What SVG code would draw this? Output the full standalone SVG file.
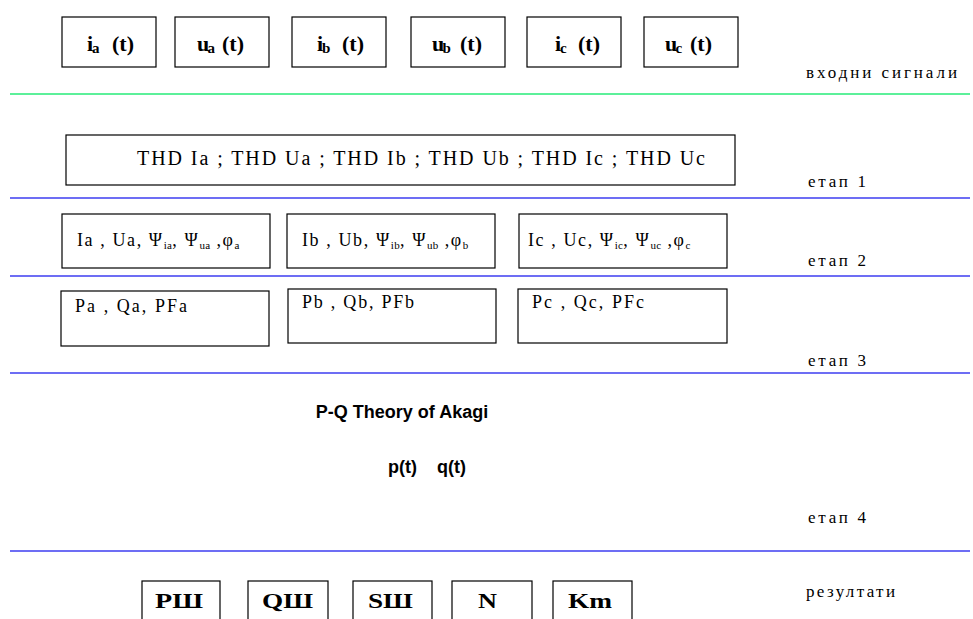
<svg xmlns="http://www.w3.org/2000/svg" width="973" height="619" viewBox="0 0 973 619">
<style>
.box{fill:#fff;stroke:#000;stroke-width:1.2}
.sig{font-family:"Liberation Serif","Times New Roman",serif;font-weight:bold;font-size:22px;fill:#000}
.sub{font-size:15px}
.lbl{font-family:"Liberation Serif","Times New Roman",serif;font-size:17px;fill:#000}
.txt{font-family:"Liberation Serif","Times New Roman",serif;font-size:18px;fill:#000}
.thd{font-family:"Liberation Serif","Times New Roman",serif;font-size:20px;fill:#000}
.s{font-size:11px;letter-spacing:0.3px}
.sep{stroke:#3c3cf0;stroke-width:1.5}
.green{stroke:#5cf09a;stroke-width:2}
.title{font-family:"Liberation Sans",Arial,sans-serif;font-weight:bold;font-size:18px;fill:#000}
.res{font-family:"Liberation Serif","Times New Roman",serif;font-weight:bold;font-size:21px;fill:#000}
</style>
<rect width="973" height="619" fill="#fff"/>
<g id="separators">
<line class="green" x1="10" y1="94" x2="970" y2="94"/>
<line class="sep" x1="10" y1="198" x2="970" y2="198"/>
<line class="sep" x1="10" y1="276" x2="970" y2="276"/>
<line class="sep" x1="10" y1="373" x2="970" y2="373"/>
<line class="sep" x1="10" y1="551" x2="970" y2="551"/>
</g>
<g id="sig-ia"><rect class="box" x="62" y="17" width="94" height="50"/><text class="sig" y="51"><tspan x="87">i</tspan><tspan class="sub" x="92" dy="2">a</tspan><tspan x="112" dy="-2">(t)</tspan></text></g>
<g id="sig-ua"><rect class="box" x="175" y="17" width="94" height="50"/><text class="sig" y="51"><tspan x="197">u</tspan><tspan class="sub" x="207.5" dy="2">a</tspan><tspan x="222" dy="-2">(t)</tspan></text></g>
<g id="sig-ib"><rect class="box" x="292" y="17" width="94" height="50"/><text class="sig" y="51"><tspan x="317">i</tspan><tspan class="sub" x="322" dy="2">b</tspan><tspan x="342" dy="-2">(t)</tspan></text></g>
<g id="sig-ub"><rect class="box" x="411" y="17" width="94" height="50"/><text class="sig" y="51"><tspan x="432">u</tspan><tspan class="sub" x="442.5" dy="2">b</tspan><tspan x="460" dy="-2">(t)</tspan></text></g>
<g id="sig-ic"><rect class="box" x="527" y="17" width="94" height="50"/><text class="sig" y="51"><tspan x="555">i</tspan><tspan class="sub" x="560" dy="2">c</tspan><tspan x="578" dy="-2">(t)</tspan></text></g>
<g id="sig-uc"><rect class="box" x="644" y="17" width="94" height="50"/><text class="sig" y="51"><tspan x="665">u</tspan><tspan class="sub" x="675.5" dy="2">c</tspan><tspan x="690" dy="-2">(t)</tspan></text></g>
<g id="label-input"><text class="lbl" x="806" y="78" textLength="151" lengthAdjust="spacing">входни сигнали</text></g>
<g id="stage1"><rect class="box" x="66" y="135" width="669" height="50"/><text class="thd" x="137" y="165" textLength="568" lengthAdjust="spacing">THD Ia ; THD Ua ; THD Ib ; THD Ub ; THD Ic ; THD Uc</text></g>
<g id="label-stage1"><text class="lbl" x="808" y="187" textLength="58" lengthAdjust="spacing">етап 1</text></g>
<g id="stage2-a"><rect class="box" x="62" y="214" width="208" height="54"/><text class="txt" x="77" y="246" letter-spacing="1.6">Ia , Ua, Ψ<tspan class="s" dy="3">ia</tspan><tspan dy="-3">, Ψ</tspan><tspan class="s" dy="3">ua</tspan><tspan dy="-3"> ,φ</tspan><tspan class="s" dy="3">a</tspan></text></g>
<g id="stage2-b"><rect class="box" x="287" y="214" width="208" height="54"/><text class="txt" x="302" y="246" letter-spacing="1.6">Ib , Ub, Ψ<tspan class="s" dy="3">ib</tspan><tspan dy="-3">, Ψ</tspan><tspan class="s" dy="3">ub</tspan><tspan dy="-3"> ,φ</tspan><tspan class="s" dy="3">b</tspan></text></g>
<g id="stage2-c"><rect class="box" x="519" y="214" width="208" height="54"/><text class="txt" x="528" y="246" letter-spacing="1.6">Ic , Uc, Ψ<tspan class="s" dy="3">ic</tspan><tspan dy="-3">, Ψ</tspan><tspan class="s" dy="3">uc</tspan><tspan dy="-3"> ,φ</tspan><tspan class="s" dy="3">c</tspan></text></g>
<g id="label-stage2"><text class="lbl" x="808" y="266" textLength="58" lengthAdjust="spacing">етап 2</text></g>
<g id="stage3-a"><rect class="box" x="61" y="291" width="208" height="55"/><text class="txt" x="75" y="312" textLength="112" lengthAdjust="spacing">Pa , Qa, PFa</text></g>
<g id="stage3-b"><rect class="box" x="288" y="289" width="208" height="54"/><text class="txt" x="302" y="308" textLength="112" lengthAdjust="spacing">Pb , Qb, PFb</text></g>
<g id="stage3-c"><rect class="box" x="518" y="289" width="209" height="54"/><text class="txt" x="532" y="308" textLength="112" lengthAdjust="spacing">Pc , Qc, PFc</text></g>
<g id="label-stage3"><text class="lbl" x="808" y="366" textLength="58" lengthAdjust="spacing">етап 3</text></g>
<g id="pq-theory"><text class="title" x="402" y="418" text-anchor="middle">P-Q Theory of Akagi</text><text class="title" y="473"><tspan x="388">p(t)</tspan><tspan x="437">q(t)</tspan></text></g>
<g id="label-stage4"><text class="lbl" x="808" y="523" textLength="58" lengthAdjust="spacing">етап 4</text></g>
<g id="label-results"><text class="lbl" x="806" y="597" textLength="89" lengthAdjust="spacing">резултати</text></g>
<g id="res-p"><rect class="box" x="142" y="581" width="78" height="60"/><text class="res" x="155" y="608" textLength="48" lengthAdjust="spacingAndGlyphs">PШ</text></g>
<g id="res-q"><rect class="box" x="248" y="581" width="80" height="60"/><text class="res" x="262" y="608" textLength="51" lengthAdjust="spacingAndGlyphs">QШ</text></g>
<g id="res-s"><rect class="box" x="353" y="581" width="79" height="60"/><text class="res" x="368" y="608" textLength="45" lengthAdjust="spacingAndGlyphs">SШ</text></g>
<g id="res-n"><rect class="box" x="452" y="581" width="80" height="60"/><text class="res" x="478" y="608" textLength="19" lengthAdjust="spacingAndGlyphs">N</text></g>
<g id="res-km"><rect class="box" x="553" y="581" width="79" height="60"/><text class="res" x="568" y="608" textLength="44" lengthAdjust="spacingAndGlyphs">Km</text></g>
</svg>
